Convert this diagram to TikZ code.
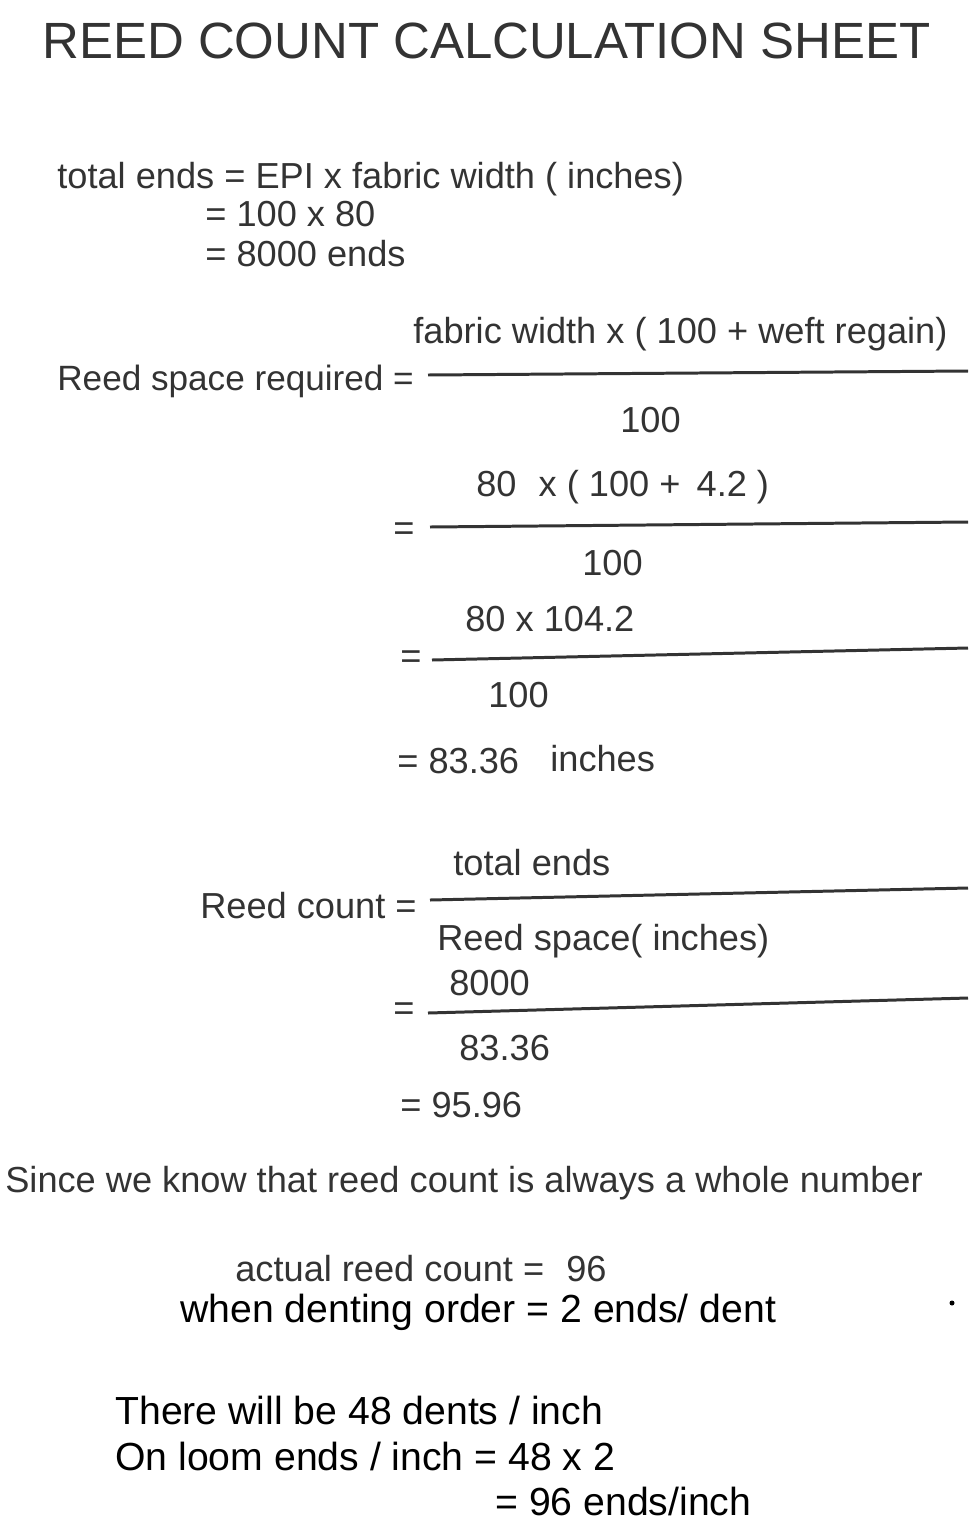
\documentclass[tikz,border=0pt]{standalone}
\usepackage{fontspec}
\setmainfont{Liberation Sans}
\definecolor{tg}{HTML}{333333}
\begin{document}
\begin{tikzpicture}[x=0.02cm,y=-0.02cm,
  t/.style={anchor=base west,inner sep=0pt,text=tg,font=\fontsize{20.6}{22}\selectfont},
  b/.style={anchor=base west,inner sep=0pt,text=black,font=\fontsize{22.3}{24}\selectfont},
  bar/.style={line width=1.7pt,tg}]
\useasboundingbox[fill=white] (0,0) rectangle (969,1525);
\node[anchor=base west,inner sep=0pt,text=tg,font=\fontsize{29}{32}\selectfont] (title) at (42,58) {REED COUNT CALCULATION SHEET};
\node[t] (a1) at (57,188) {total ends = EPI x fabric width ( inches)};
\node[t] (a2) at (205,226) {= 100 x 80};
\node[t] (a3) at (205,266) {= 8000 ends};
\node[t] (r1) at (413,343) {fabric width x ( 100 + weft regain)};
\node[t,font=\fontsize{20}{22}\selectfont] (rl) at (57,390) {Reed space required =};
\coordinate (l1a) at (428,375); \coordinate (l1b) at (968,371);
\draw[bar] (l1a) -- (l1b);
\node[t] (r1d) at (620,432) {100};
\node[t] (r2) at (476,496) {80\,\, x ( 100 +\, 4.2 )};
\node[t] (e2) at (393,540) {=};
\coordinate (l2a) at (430,527); \coordinate (l2b) at (968,522);
\draw[bar] (l2a) -- (l2b);
\node[t] (r2d) at (582,575) {100};
\node[t] (r3) at (465,631) {80 x 104.2};
\node[t] (e3) at (400,668) {=};
\coordinate (l3a) at (432,660); \coordinate (l3b) at (968,648);
\draw[bar] (l3a) -- (l3b);
\node[t] (r3d) at (488,707) {100};
\node[t] (r4) at (397,773) {= 83.36};
\node[t] (r4u) at (550,771) {inches};
\node[t] (c1) at (453,875) {total ends};
\node[t] (cl) at (200,918) {Reed count =};
\coordinate (l4a) at (430,900); \coordinate (l4b) at (968,888);
\draw[bar] (l4a) -- (l4b);
\node[t] (c1d) at (437,950) {Reed space( inches)};
\node[t] (c2) at (449,995) {8000};
\node[t] (e4) at (393,1020) {=};
\coordinate (l5a) at (428,1013); \coordinate (l5b) at (968,998);
\draw[bar] (l5a) -- (l5b);
\node[t] (c2d) at (459,1060) {83.36};
\node[t] (c3) at (400,1117) {= 95.96};
\node[t] (s) at (5,1192) {Since we know that reed count is always a whole number};
\node[t] (ar) at (235,1281) {actual reed count =\,\, 96};
\node[b] (dn) at (180,1322) {when denting order = 2 ends/ dent};
\fill[black] (952,1303) circle (2.5);
\node[b] (d1) at (115,1424) {There will be 48 dents / inch};
\node[b] (d2) at (115,1470) {On loom ends / inch = 48 x 2};
\node[b] (d3) at (495,1515) {= 96 ends/inch};
\end{tikzpicture}
\end{document}
